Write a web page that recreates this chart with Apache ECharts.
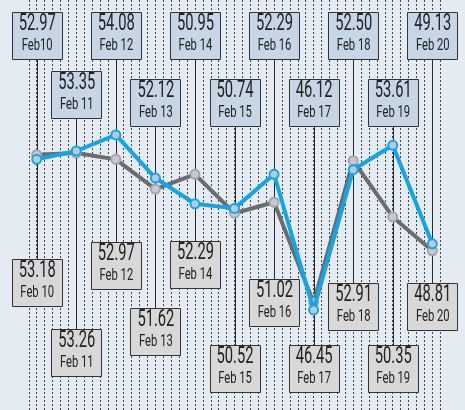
<!DOCTYPE html>
<html>
<head>
<meta charset="utf-8">
<script src="https://cdn.jsdelivr.net/npm/echarts@6/dist/echarts.min.js"></script>
<style>
html,body{margin:0;padding:0;background:#e5ebf3;}
#chart{width:465px;height:410px;}
</style>
</head>
<body>
<div id="chart"></div>
<script>
// ---- data ----
const dates = ['Feb 10','Feb 11','Feb 12','Feb 13','Feb 14','Feb 15','Feb 16','Feb 17','Feb 18','Feb 19','Feb 20'];
const topDateLabels = ['Feb10','Feb 11','Feb 12','Feb 13','Feb 14','Feb 15','Feb 16','Feb 17','Feb 18','Feb 19','Feb 20'];
const bottomDateLabels = ['Feb 10','Feb 11','Feb 12','Feb 13','Feb 14','Feb 15','Feb 16','Feb 17','Feb 18','Feb 19','Feb 20'];
const blueValues = [52.97, 53.35, 54.08, 52.12, 50.95, 50.74, 52.29, 46.12, 52.50, 53.61, 49.13];
const greyValues = [53.18, 53.26, 52.97, 51.62, 52.29, 50.52, 51.02, 46.45, 52.91, 50.35, 48.81];

// ---- layout (label box positions, pixels) ----
const topBoxTop = [12, 70.5, 12, 79, 12, 79, 12, 79, 12, 79, 12];
const bottomBoxTop = [259, 329, 241.5, 308, 241, 345, 279, 345, 282.5, 345, 282.5];
const BOX_W = 50, BOX_H = 47;

const chart = echarts.init(document.getElementById('chart'), null, {renderer:'canvas'});

function txt(cx, cy, s, size, sx) {
  return {
    type: 'text', x: cx, y: cy, scaleX: sx, scaleY: 1,
    style: { text: s, x: 0, y: 0, align: 'center', verticalAlign: 'middle',
             font: size + 'px Roboto', fill: '#222' }
  };
}

function renderLabels(params, api) {
  const i = api.value(0);
  const x = api.coord([i, api.value(1)])[0];
  const xl = Math.round(x) + 0.5;
  const bx = Math.round(x - BOX_W / 2) + 0.5;
  const tt = Math.round(topBoxTop[i]) + 0.5;
  const bt = Math.round(bottomBoxTop[i]) + 0.5;
  return {
    type: 'group',
    children: [
      { type: 'line', shape: { x1: xl, y1: tt + BOX_H, x2: xl, y2: bt },
        style: { stroke: '#2a2a2a', lineWidth: 1 } },
      { type: 'rect', shape: { x: bx, y: tt, width: BOX_W, height: BOX_H },
        style: { fill: '#c6d6e4', stroke: '#333', lineWidth: 1 } },
      txt(x + 0.5, tt + 12, blueValues[i].toFixed(2), 23, 0.64),
      txt(x + 0.5, tt + 33, topDateLabels[i], 17, 0.66),
      { type: 'rect', shape: { x: bx, y: bt, width: BOX_W, height: BOX_H },
        style: { fill: '#d8d8d8', stroke: '#333', lineWidth: 1 } },
      txt(x + 0.5, bt + 12, greyValues[i].toFixed(2), 23, 0.64),
      txt(x + 0.5, bt + 33, bottomDateLabels[i], 17, 0.66)
    ]
  };
}

const option = {
  animation: false,
  backgroundColor: '#e5ebf3',
  grid: [
    { left: 28.8, width: 411.4, top: 0, height: 410 },
    { left: 36.7, width: 395.6, top: 48.8, height: 351.7 }
  ],
  xAxis: [
    { gridIndex: 0, type: 'value', min: 0, max: 52, interval: 1,
      axisLine: {show:false}, axisTick: {show:false}, axisLabel: {show:false},
      splitLine: { show: true, lineStyle: { color: '#444', width: 1, type: [2, 2] } } },
    { gridIndex: 1, type: 'category', data: dates, boundaryGap: false,
      axisLine: {show:false}, axisTick: {show:false}, axisLabel: {show:false},
      splitLine: {show:false} }
  ],
  yAxis: [
    { gridIndex: 0, type: 'value', min: 0, max: 1,
      axisLine: {show:false}, axisTick: {show:false}, axisLabel: {show:false}, splitLine: {show:false} },
    { gridIndex: 1, type: 'value', min: 42, max: 58,
      axisLine: {show:false}, axisTick: {show:false}, axisLabel: {show:false}, splitLine: {show:false} }
  ],
  series: [
    { type: 'custom', xAxisIndex: 1, yAxisIndex: 1, z: 1, silent: true,
      data: dates.map((d, i) => [i, blueValues[i], greyValues[i]]),
      encode: { x: 0, y: 1 },
      renderItem: renderLabels },
    { type: 'line', name: 'grey', xAxisIndex: 1, yAxisIndex: 1, z: 3,
      data: greyValues,
      lineStyle: { color: '#6c6c6c', width: 4 },
      symbol: 'circle', symbolSize: 9,
      itemStyle: { color: '#c6cad0', borderColor: '#a2a6ab', borderWidth: 2 } },
    { type: 'line', name: 'blue', xAxisIndex: 1, yAxisIndex: 1, z: 4,
      data: blueValues,
      lineStyle: { color: '#12a6e8', width: 4 },
      symbol: 'circle', symbolSize: 9,
      itemStyle: { color: '#b6cadc', borderColor: '#12a6e8', borderWidth: 2 } }
  ]
};
chart.setOption(option);
</script>
</body>
</html>
